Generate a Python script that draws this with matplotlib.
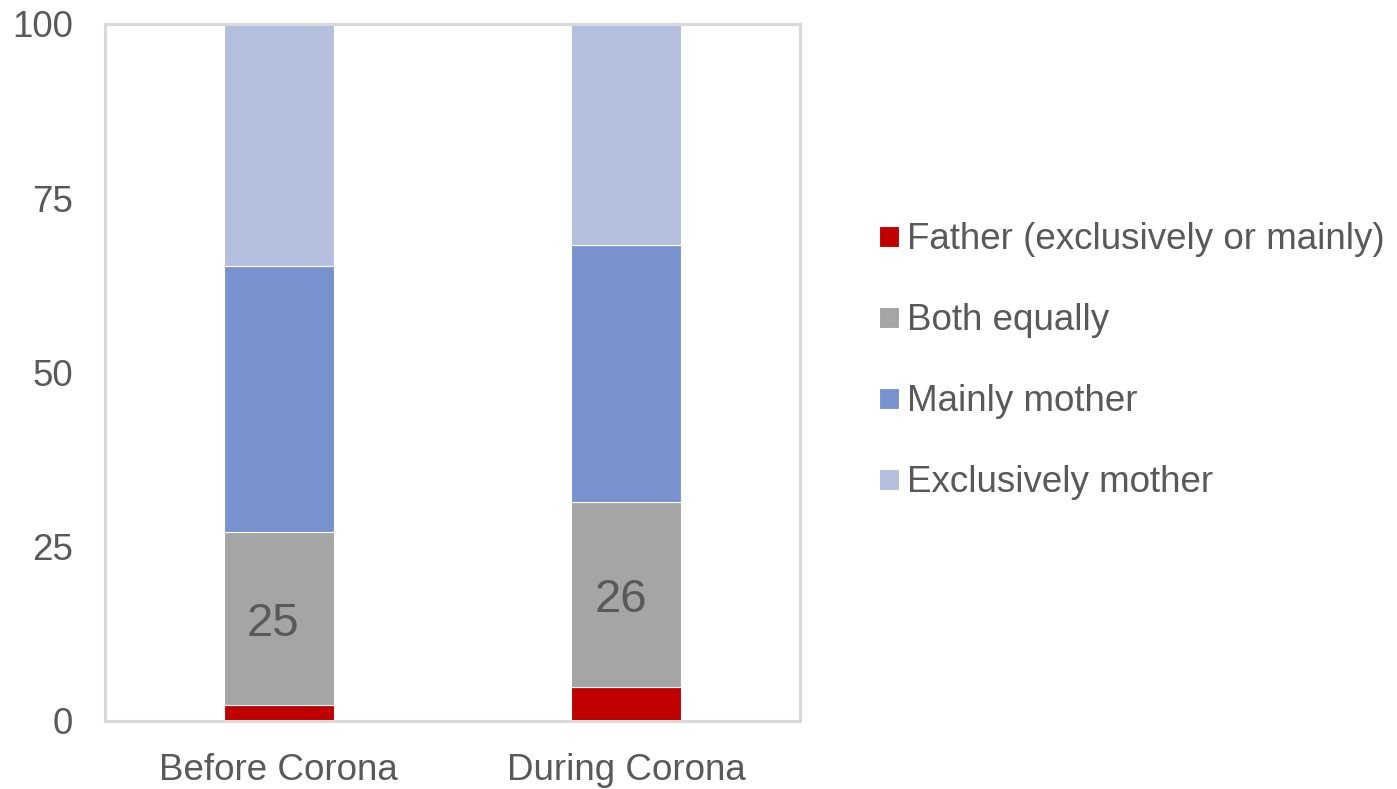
import matplotlib.pyplot as plt
import numpy as np

plt.rcParams['font.family'] = ['Liberation Sans', 'DejaVu Sans']

categories = ['Before Corona', 'During Corona']
series = ['Father (exclusively or mainly)', 'Both equally', 'Mainly mother', 'Exclusively mother']
father = [2.3, 4.9]
both = [24.8, 26.5]
mainly_mother = [38.2, 36.9]
excl_mother = [34.7, 31.7]
both_labels = ['25', '26']
yticks = [0, 25, 50, 75, 100]

colors = ['#C00000', '#A5A5A5', '#7892D0', '#B4BFE0']
text_color = '#595959'
grid_color = '#D9D9D9'

fig = plt.figure(figsize=(13.97, 7.89), dpi=100)
ax = fig.add_axes([0.0752, 0.0862, 0.4975, 0.8834])

x = np.arange(len(categories))
width = 0.316
bottom = np.zeros(len(categories))
bars = []
for vals, col, name in zip([father, both, mainly_mother, excl_mother], colors, series):
    b = ax.bar(x, vals, width, bottom=bottom, color=col, label=name,
               edgecolor='white', linewidth=0.8)
    bars.append(b)
    if name == 'Both equally':
        # value labels in the middle of the grey segment
        for xi, bt, v, lab in zip(x, bottom, vals, both_labels):
            ax.annotate(lab, xy=(xi, bt + v / 2), xytext=(-4, -4),
                        textcoords='offset points', ha='center', va='center',
                        fontsize=34, color=text_color)
    bottom = bottom + np.array(vals)

ax.set_xlim(-0.5, 1.5)
ax.set_ylim(0, 100)
ax.set_yticks(yticks)
ax.set_xticks(x)
ax.set_xticklabels(categories)
ax.tick_params(axis='both', length=0, labelsize=26.5, labelcolor=text_color)
ax.tick_params(axis='y', pad=23)
ax.tick_params(axis='x', pad=23)
for s in ax.spines.values():
    s.set_color(grid_color)
    s.set_linewidth(2.2)

fig.legend(handles=bars, labels=series, loc='center left',
           bbox_to_anchor=(0.619, 0.542), frameon=False, fontsize=26.5,
           labelcolor=text_color, handlelength=0.52, handleheight=0.52,
           handletextpad=0.22, labelspacing=1.25, borderaxespad=0)

fig.savefig('out.png', dpi=100)
